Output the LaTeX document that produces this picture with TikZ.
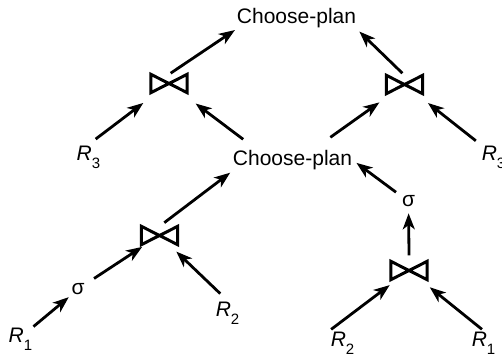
\documentclass[tikz,border=0pt]{standalone}
\usepackage{fontspec}
\setmainfont{Liberation Sans}
\usetikzlibrary{arrows.meta}
\newcommand{\relname}[1]{\textit{R}\raisebox{-8pt}{\fontsize{15}{15}\selectfont #1}}
\tikzset{
  plan/.style={font=\fontsize{21}{25}\selectfont, inner sep=1pt},
  joinop/.style={minimum width=36pt, minimum height=18pt, inner sep=0pt,
                 append after command={\pgfextra{
                   \draw[line width=3pt, line join=miter]
                     (\tikzlastnode.north west) -- (\tikzlastnode.south east)
                     -- (\tikzlastnode.north east) -- (\tikzlastnode.south west) -- cycle;}}},
  flow/.style={-{Stealth[length=16pt,width=12pt,inset=4.5pt]}, line width=2.8pt}
}
\begin{document}
\begin{tikzpicture}[x=1pt, y=-1pt]
  \useasboundingbox (0,0) rectangle (502,358);

  % ===== Upper plan: two join orders =====
  \node[plan]   (top)   at (296.5,18.5) {Choose-plan};
  \node[joinop] (ljoin) at (169,83.5) {};
  \node[joinop] (rjoin) at (404.5,84.5) {};
  \node[plan]   (lR3)   at (88.5,157) {\relname{3}};
  \node[plan]   (mid)   at (292.5,160.5) {Choose-plan};
  \node[plan]   (rR3)   at (493.5,157) {\relname{3}};

  \draw[flow, shorten <=2pt, shorten >=1pt] (ljoin.north) -- (top.south west);
  \draw[flow, shorten <=3pt, shorten >=3pt] (rjoin.north) -- (top.south east);
  \draw[flow, shorten <=9pt, shorten >=17pt] (lR3.north) -- (ljoin);
  \draw[flow, shorten <=17pt, shorten >=18pt] ([xshift=25pt]mid.north west) -- (ljoin);
  \draw[flow, shorten <=21pt, shorten >=15pt] ([xshift=-40pt]mid.north east) -- (rjoin);
  \draw[flow, shorten <=6pt, shorten >=15pt] (rR3.north west) -- (rjoin);

  % ===== Lower plan, left: select before join =====
  \node[joinop] (bljoin) at (159.5,235.5) {};
  \node[plan]   (lsig)   at (78,289) {σ};
  \node[plan]   (lR1)    at (20.5,339) {\relname{1}};
  \node[plan]   (lR2)    at (227.5,313) {\relname{2}};

  \draw[flow, shorten <=6pt, shorten >=2pt] (bljoin.north) -- (mid.south west);
  \draw[flow, shorten >=2pt] (lR1.north east) -- (lsig.south west);
  \draw[flow, shorten <=10pt, shorten >=4pt] (lsig) -- (bljoin);
  \draw[flow, shorten <=10pt, shorten >=10pt] (lR2.north) -- (bljoin);

  % ===== Lower plan, right: select after join =====
  \node[plan]   (rsig)   at (408.5,201.5) {σ};
  \node[joinop] (brjoin) at (409,270.5) {};
  \node[plan]   (rR2)    at (342.5,343) {\relname{2}};
  \node[plan]   (rR1)    at (483.5,343) {\relname{1}};

  \draw[flow, shorten <=6pt, shorten >=4pt] (rsig) -- (mid.east);
  \draw[flow, shorten >=5pt] ([yshift=6pt]brjoin.north) -- (rsig);
  \draw[flow, shorten <=2pt, shorten >=9pt] (rR2.north west) -- (brjoin);
  \draw[flow, shorten <=2pt, shorten >=12pt] (rR1.north) -- (brjoin);

\end{tikzpicture}
\end{document}
